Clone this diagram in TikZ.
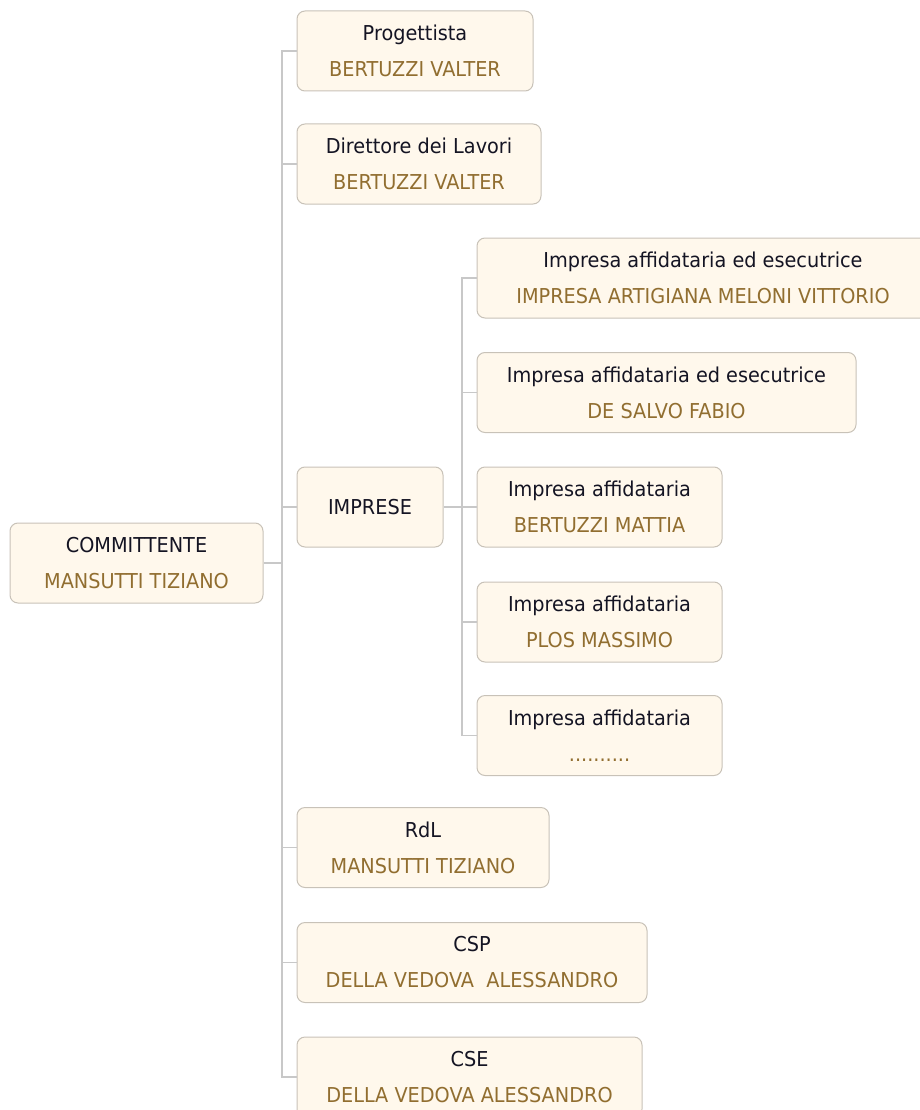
\documentclass[tikz,border=0pt]{standalone}
\usepackage{fontspec}
\setmainfont{DejaVu Sans}[FakeStretch=0.94]
\definecolor{boxfill}{RGB}{255,248,236}
\definecolor{boxline}{RGB}{200,194,184}
\definecolor{linkcol}{RGB}{200,200,200}
\definecolor{titlecol}{RGB}{20,20,35}
\definecolor{namecol}{RGB}{145,110,48}
\newcommand{\ttl}[1]{{\color{titlecol}#1}}
\newcommand{\nme}[1]{{\color{namecol}#1}}
\tikzset{
  orgbox/.style={draw=boxline, fill=boxfill, line width=1pt, rounded corners=8pt,
    minimum height=80pt, align=center, inner sep=0pt,
    font=\fontsize{20.5}{36}\selectfont},
  link/.style={draw=linkcol, line width=1.5pt}
}
\begin{document}
\begin{tikzpicture}[x=1pt,y=-1pt]
\useasboundingbox (0,0) rectangle (919,1110);
\node[orgbox, minimum width=253pt] (comm) at (136.5,563) {\ttl{COMMITTENTE}\\\nme{MANSUTTI TIZIANO}};
\node[orgbox, minimum width=236pt] (prog) at (415,51) {\ttl{Progettista}\\\nme{BERTUZZI VALTER}};
\node[orgbox, minimum width=244pt] (dir) at (419,164) {\ttl{Direttore dei Lavori}\\\nme{BERTUZZI VALTER}};
\node[orgbox, minimum width=146pt] (imp) at (370,507) {\ttl{IMPRESE}};
\node[orgbox, minimum width=452pt] (i1) at (703,278) {\ttl{Impresa affidataria ed esecutrice}\\\nme{IMPRESA ARTIGIANA MELONI VITTORIO}};
\node[orgbox, minimum width=379pt] (i2) at (666.5,392.5) {\ttl{Impresa affidataria ed esecutrice}\\\nme{DE SALVO FABIO}};
\node[orgbox, minimum width=245pt] (i3) at (599.5,507) {\ttl{Impresa affidataria}\\\nme{BERTUZZI MATTIA}};
\node[orgbox, minimum width=245pt] (i4) at (599.5,622) {\ttl{Impresa affidataria}\\\nme{PLOS MASSIMO}};
\node[orgbox, minimum width=245pt] (i5) at (599.5,735.5) {\ttl{Impresa affidataria}\\\nme{..........}};
\node[orgbox, minimum width=252pt] (rdl) at (423,847.5) {\ttl{RdL}\\\nme{MANSUTTI TIZIANO}};
\node[orgbox, minimum width=350pt] (csp) at (472,962.5) {\ttl{CSP}\\\nme{DELLA VEDOVA\ \ ALESSANDRO}};
\node[orgbox, minimum width=345pt] (cse) at (469.5,1077) {\ttl{CSE}\\\nme{DELLA VEDOVA ALESSANDRO}};
\coordinate (t) at (282,563);
\coordinate (s) at (462,507);
\draw[link] (comm.east) -- (t);
\foreach \n in {prog,dir,imp,rdl,csp,cse} \draw[link] (\n.west) -| (t);
\draw[link] (imp.east) -- (s);
\foreach \n in {i1,i2,i3,i4,i5} \draw[link] (\n.west) -| (s);
\end{tikzpicture}
\end{document}
